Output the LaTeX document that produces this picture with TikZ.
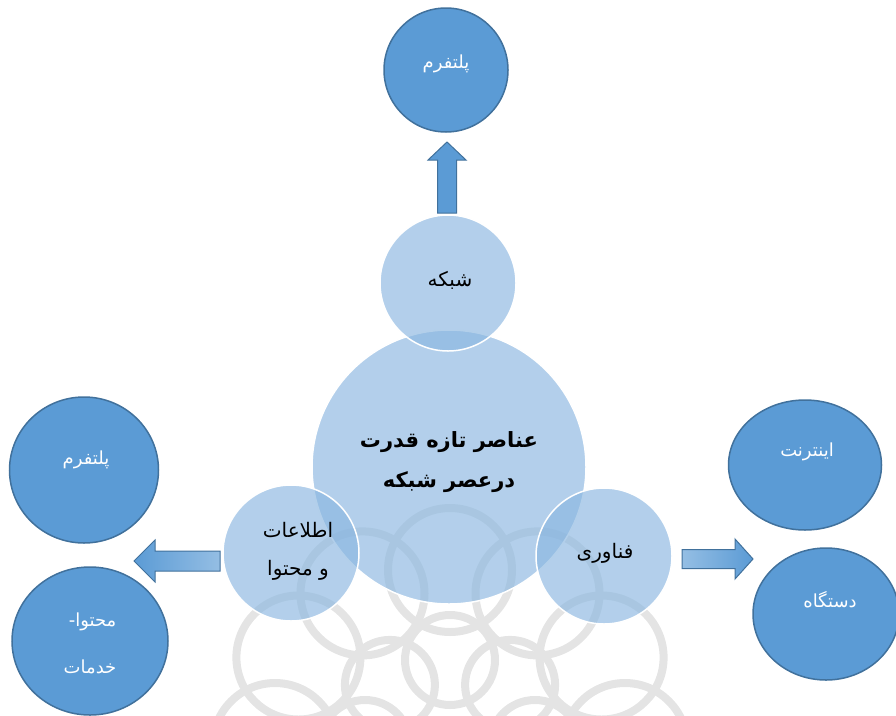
\documentclass[tikz,border=0pt]{standalone}
\usepackage{fontspec}
\newfontfamily\arabicfont[Script=Arabic]{DejaVu Sans}
\TeXXeTstate=1
\usetikzlibrary{shapes.geometric}
\definecolor{nodeblue}{HTML}{5B9BD5}
\definecolor{nodeedge}{HTML}{41719C}
\definecolor{paleblue}{HTML}{8AB6E0}
\definecolor{markgray}{HTML}{E4E4E4}
\begin{document}
\begin{tikzpicture}%
	[x=1pt,
	y=-1pt,
	outer/.style={ellipse,inner sep=0pt,fill=nodeblue,draw=nodeedge,line width=1.5pt},
	inner/.style={circle,inner sep=0pt,fill=paleblue,fill opacity=0.65,draw=white,line width=1.5pt},
	whitelabel/.style={text=white,align=center,font=\arabicfont\fontsize{18}{22}\selectfont},
	blacklabel/.style={text=black,align=center,font=\arabicfont\fontsize{20}{38}\selectfont},
	corelabel/.style={text=black,align=center,font=\arabicfont\bfseries\fontsize{21}{40}\selectfont},
	blockarrow/.style={draw=nodeedge,line width=1pt},
	wmark/.style={color=markgray,line width=8pt}]
%
\useasboundingbox (0,0) rectangle (896,715);
%%
%% Drawing the watermark in the back
%%
\begin{scope}
\clip (0,0) rectangle (896,715);
\draw[wmark] (450,660) circle (45);
\draw[wmark] (510.1,684.9) circle (45);
\draw[wmark] (389.9,684.9) circle (45);
\draw[wmark] (535,745) circle (45);
\draw[wmark] (365,745) circle (45);
\draw[wmark] (450,570) circle (62);
\draw[wmark] (537.5,593.4) circle (62);
\draw[wmark] (362.5,593.4) circle (62);
\draw[wmark] (601.6,657.5) circle (62);
\draw[wmark] (298.4,657.5) circle (62);
\draw[wmark] (625,745) circle (62);
\draw[wmark] (275,745) circle (62);
\end{scope}
%%
%% Drawing the outer nodes
%%
\node[outer,minimum width=124pt,minimum height=124pt] (platformTop) at (446,70) {};
\node[outer,minimum width=149pt,minimum height=146pt] (platformLeft) at (84,470) {};
\node[outer,minimum width=156pt,minimum height=148pt] (services) at (90,641) {};
\node[outer,minimum width=153pt,minimum height=130pt] (internet) at (805,465) {};
\node[outer,minimum width=146pt,minimum height=132pt] (device) at (826,614) {};
%%
%% Drawing the inner nodes
%%
\node[inner,minimum size=274pt] (core) at (449,467) {};
\node[inner,minimum size=136pt] (network) at (448,283) {};
\node[inner,minimum size=136pt] (content) at (291,553) {};
\node[inner,minimum size=136pt] (tech) at (604,556) {};
%%
%% Drawing the block arrows
%%
\draw[blockarrow,fill=nodeblue] (437.5,213) -- (437.5,160) -- (428,160) -- (447,142) -- (466,160) -- (456.5,160) -- (456.5,213) -- cycle;
\draw[blockarrow,left color=nodeblue,right color=nodeblue!65!white] (220,551) -- (155,551) -- (155,540) -- (134,561) -- (155,582) -- (155,571) -- (220,571) -- cycle;
\draw[blockarrow,left color=nodeblue!65!white,right color=nodeblue] (682,549.5) -- (735,549.5) -- (735,539) -- (753,559) -- (735,579) -- (735,568.5) -- (682,568.5) -- cycle;
%%
%% Drawing the labels
%%
\node[whitelabel] (platformTopText) at (446,64) {\beginR پلتفرم\endR};
\node[whitelabel] (platformLeftText) at (86,460) {\beginR پلتفرم\endR};
\node[whitelabel,align=right,font=\arabicfont\fontsize{18}{47}\selectfont] (servicesText) at (90,643) {\beginR محتوا-\endR\\\beginR خدمات\endR};
\node[whitelabel] (internetText) at (807,452) {\beginR اینترنت\endR};
\node[whitelabel] (deviceText) at (830,600) {\beginR دستگاه\endR};
\node[blacklabel] (networkText) at (450,280) {\beginR شبکه\endR};
\node[blacklabel] (techText) at (605,553) {\beginR فناوری\endR};
\node[blacklabel] (contentText) at (298,551) {\beginR اطلاعات\endR\\\beginR و محتوا\endR};
\node[corelabel] (coreText) at (449,462) {\beginR عناصر تازه قدرت\endR\\\beginR درعصر شبکه\endR};
%%
\end{tikzpicture}
\end{document}
